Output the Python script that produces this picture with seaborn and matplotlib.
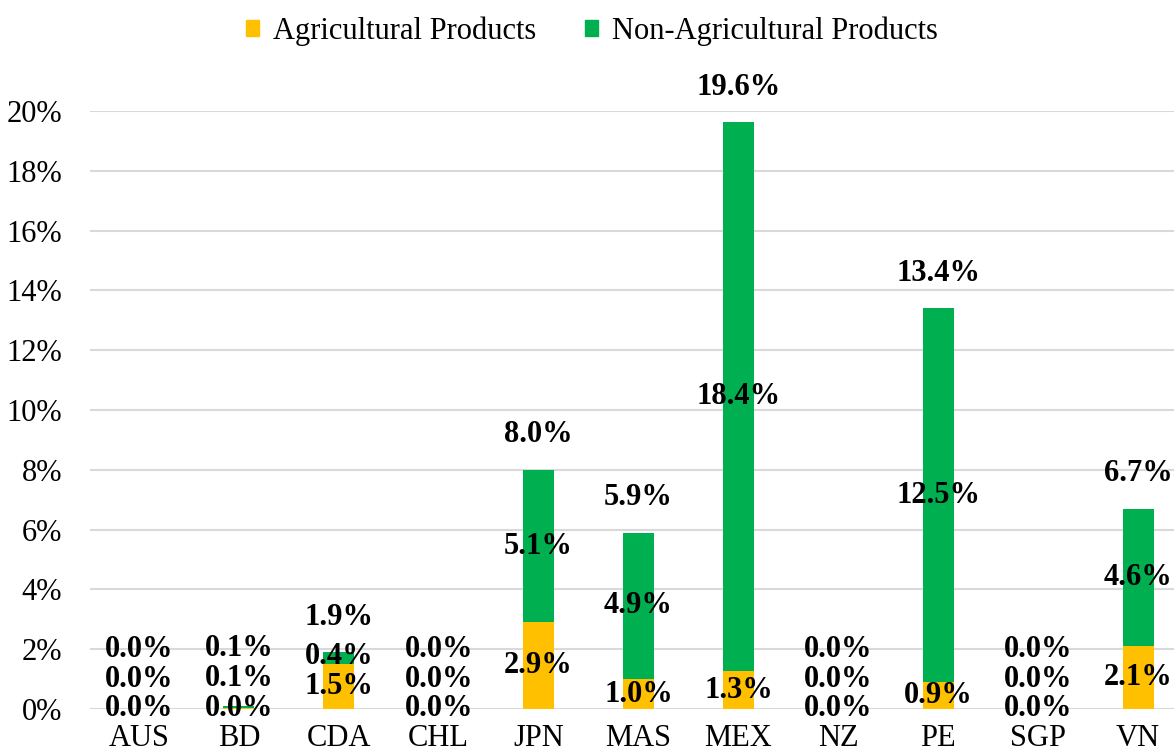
import matplotlib
matplotlib.use("Agg")
import matplotlib.pyplot as plt
from matplotlib.patches import Patch
import seaborn as sns
import pandas as pd

# values in percent
members = ["AUS", "BD", "CDA", "CHL", "JPN", "MAS", "MEX", "NZ", "PE", "SGP", "VN"]
agri = [0.0, 0.03, 1.5, 0.0, 2.9, 1.0, 1.26, 0.0, 0.9, 0.0, 2.1]
non_agri = [0.0, 0.08, 0.4, 0.0, 5.1, 4.9, 18.37, 0.0, 12.5, 0.0, 4.6]
yticks = [0, 2, 4, 6, 8, 10, 12, 14, 16, 18, 20]

yellow = "#FFC000"
green = "#00B050"

df = pd.DataFrame({"member": members, "agri": agri, "non_agri": non_agri})
df["total"] = df["agri"] + df["non_agri"]

sns.set_style("white")
plt.rcParams["font.family"] = ["Liberation Serif", "DejaVu Serif"]
plt.rcParams["text.color"] = "black"
plt.rcParams["xtick.color"] = "black"
plt.rcParams["ytick.color"] = "black"

fig = plt.figure(figsize=(11.74, 7.53), dpi=100)
ax = fig.add_axes([90 / 1174, 44 / 753, 1084 / 1174, 598 / 753])

# stacked: full height in green, agricultural part drawn over it
sns.barplot(data=df, x="member", y="total", color=green, width=0.31,
            saturation=1, linewidth=0, ax=ax, zorder=2)
sns.barplot(data=df, x="member", y="agri", color=yellow, width=0.31,
            saturation=1, linewidth=0, ax=ax, zorder=3)

ax.set_xlim(-0.49, 10.36)
ax.set_ylim(0, 20)
ax.set_yticks(yticks)
ax.set_yticklabels([f"{t}%" for t in yticks])
ax.set_xlabel("")
ax.set_ylabel("")
ax.yaxis.grid(True, color="#D9D9D9", linewidth=1.5, zorder=0)
ax.set_axisbelow(True)
sns.despine(ax=ax, left=True, bottom=True)
ax.tick_params(axis="y", length=0, pad=20, labelsize=22)
ax.tick_params(axis="x", length=0, pad=11, labelsize=22)

lab = dict(ha="center", va="center", fontsize=22, fontweight="bold",
           color="black", zorder=5, clip_on=False)
for i, row in df.iterrows():
    y1 = row["agri"] / 2
    y2 = max(row["agri"] + row["non_agri"] / 2, y1 + 1.0)
    y3 = max(row["total"] + 1.17, y2 + 1.0)
    ax.text(i, y1, f"{row['agri']:.1f}%", **lab)
    ax.text(i, y2, f"{row['non_agri']:.1f}%", **lab)
    ax.text(i, y3, f"{row['total']:.1f}%", **lab)

handles = [Patch(color=yellow, label="Agricultural Products"),
           Patch(color=green, label="Non-Agricultural Products")]
fig.legend(handles=handles, loc="center", bbox_to_anchor=(592 / 1174, 1 - 31 / 753),
           ncol=2, frameon=False, fontsize=22, handlelength=0.42, handleheight=0.42,
           handletextpad=0.45, columnspacing=1.6)

fig.savefig("out.png", dpi=100)
